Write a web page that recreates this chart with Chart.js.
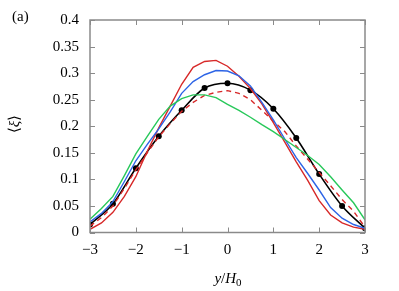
<!DOCTYPE html>
<html>
<head>
<meta charset="utf-8">
<script src="https://cdn.jsdelivr.net/npm/chart.js@4.4.1/dist/chart.umd.min.js"></script>
<style>
  html, body { margin: 0; padding: 0; background: #fff; }
  #wrap { width: 399px; height: 291px; }
</style>
</head>
<body>
<div id="wrap"><canvas id="plot" width="399" height="291"></canvas></div>
<script>
/* profile data */
var xFine = [-3, -2.75, -2.5, -2.25, -2, -1.75, -1.5, -1.25, -1, -0.75, -0.5, -0.25, 0,
             0.25, 0.5, 0.75, 1, 1.25, 1.5, 1.75, 2, 2.25, 2.5, 2.75, 3];
var redSolid = [0.006, 0.018, 0.038, 0.068, 0.105, 0.153, 0.197, 0.238, 0.279, 0.311, 0.322, 0.324, 0.313,
                0.294, 0.271, 0.242, 0.207, 0.170, 0.133, 0.098, 0.060, 0.033, 0.018, 0.010, 0.006];
var blueSolid = [0.020, 0.036, 0.058, 0.096, 0.135, 0.166, 0.195, 0.227, 0.262, 0.284, 0.297, 0.305, 0.304,
                 0.295, 0.276, 0.245, 0.212, 0.176, 0.141, 0.111, 0.080, 0.047, 0.027, 0.015, 0.008];
var greenSolid = [0.025, 0.045, 0.068, 0.107, 0.148, 0.181, 0.213, 0.238, 0.252, 0.259, 0.259, 0.254, 0.241,
                  0.230, 0.217, 0.203, 0.190, 0.175, 0.160, 0.145, 0.128, 0.105, 0.080, 0.056, 0.024];
var redDashed = [0.012, 0.028, 0.050, 0.083, 0.118, 0.150, 0.180, 0.205, 0.228, 0.245, 0.258, 0.264, 0.267,
                 0.262, 0.250, 0.230, 0.210, 0.190, 0.163, 0.138, 0.113, 0.088, 0.062, 0.040, 0.010];
var xMarks = [-3, -2.5, -2, -1.5, -1, -0.5, 0, 0.5, 1, 1.5, 2, 2.5, 3];
var blackMarks = [0.015, 0.054, 0.121, 0.181, 0.230, 0.272, 0.281, 0.268, 0.233, 0.178, 0.110, 0.050, 0.008];

var xTicks = [-3, -2, -1, 0, 1, 2, 3];
var yTicks = [0, 0.05, 0.1, 0.15, 0.2, 0.25, 0.3, 0.35, 0.4];

var serif = '"Liberation Serif", "Times New Roman", serif';

function pts(xs, ys) {
    return xs.map(function (x, i) { return { x: x, y: ys[i] }; });
}

function lineSet(data, color, extra) {
    var ds = {
        data: data,
        borderColor: color,
        borderWidth: 1.4,
        pointRadius: 0,
        tension: 0,
        fill: false
    };
    for (var k in extra) ds[k] = extra[k];
    return ds;
}

/* box frame with inward ticks plus the hand-set titles */
var framePlugin = {
    id: 'frame',
    afterDatasetsDraw: function (chart) {
        var ctx = chart.ctx, a = chart.chartArea;
        var xs = chart.scales.x, ys = chart.scales.y;
        ctx.save();
        ctx.strokeStyle = '#8a8a8a';
        ctx.lineWidth = 1.5;
        ctx.strokeRect(a.left, a.top, a.right - a.left, a.bottom - a.top);
        ctx.lineWidth = 1;
        ctx.beginPath();
        xTicks.forEach(function (t) {
            var px = Math.round(xs.getPixelForValue(t)) + 0.5;
            ctx.moveTo(px, a.bottom); ctx.lineTo(px, a.bottom - 5);
            ctx.moveTo(px, a.top); ctx.lineTo(px, a.top + 5);
        });
        yTicks.forEach(function (t) {
            var py = Math.round(ys.getPixelForValue(t)) + 0.5;
            ctx.moveTo(a.left, py); ctx.lineTo(a.left + 5, py);
            ctx.moveTo(a.right, py); ctx.lineTo(a.right - 5, py);
        });
        ctx.stroke();

        ctx.fillStyle = '#000';
        ctx.textBaseline = 'middle';
        ctx.font = '15px ' + serif;
        ctx.textAlign = 'left';
        ctx.fillText('(a)', 12, 17);

        // x title: y/H0
        var cx = 228, cy = 279;
        var parts = [
            { t: 'y', f: 'italic 15px ' + serif, dy: 0 },
            { t: '/', f: '15px ' + serif, dy: 0 },
            { t: 'H', f: 'italic 15px ' + serif, dy: 0 },
            { t: '0', f: '11px ' + serif, dy: 4 }
        ];
        var w = 0;
        parts.forEach(function (p) { ctx.font = p.f; p.w = ctx.measureText(p.t).width; w += p.w; });
        var x = cx - w / 2;
        parts.forEach(function (p) { ctx.font = p.f; ctx.fillText(p.t, x, cy + p.dy); x += p.w; });

        // y title: <xi>, rotated
        ctx.translate(15, 124);
        ctx.rotate(-Math.PI / 2);
        var yp = [
            { t: '\u27E8', f: '15px ' + serif },
            { t: '\u03BE', f: 'italic 15px ' + serif },
            { t: '\u27E9', f: '15px ' + serif }
        ];
        w = 0;
        yp.forEach(function (p) { ctx.font = p.f; p.w = ctx.measureText(p.t).width; w += p.w; });
        x = -w / 2;
        yp.forEach(function (p) { ctx.font = p.f; ctx.fillText(p.t, x, 0); x += p.w; });
        ctx.restore();
    }
};

var chart = new Chart(document.getElementById('plot').getContext('2d'), {
    type: 'line',
    data: {
        datasets: [
            lineSet(pts(xFine, greenSolid), 'rgb(40,200,90)'),
            lineSet(pts(xFine, blueSolid), 'rgb(45,100,230)'),
            lineSet(pts(xFine, redSolid), 'rgb(215,40,40)'),
            lineSet(pts(xFine, redDashed), 'rgb(215,40,40)', { borderDash: [5, 4] }),
            lineSet(pts(xMarks, blackMarks), '#000', {
                borderWidth: 1.6,
                cubicInterpolationMode: 'monotone',
                pointRadius: 3,
                pointBackgroundColor: '#000',
                pointBorderWidth: 0
            })
        ]
    },
    options: {
        responsive: false,
        animation: false,
        events: [],
        layout: { padding: { left: 0, right: 34, top: 19, bottom: 0 } },
        plugins: { legend: { display: false }, tooltip: { enabled: false } },
        scales: {
            x: {
                type: 'linear',
                min: -3, max: 3,
                afterFit: function (s) { s.height = 58.5; },
                afterBuildTicks: function (s) { s.ticks = xTicks.map(function (v) { return { value: v }; }); },
                grid: { display: false, drawTicks: false },
                border: { display: false },
                ticks: {
                    padding: 9,
                    color: '#000',
                    font: { family: serif, size: 15 },
                    maxRotation: 0,
                    callback: function (v) { return String(v).replace('-', '\u2212'); }
                }
            },
            y: {
                min: 0, max: 0.4,
                afterFit: function (s) { s.width = 90; },
                afterBuildTicks: function (s) { s.ticks = yTicks.map(function (v) { return { value: v }; }); },
                grid: { display: false, drawTicks: false },
                border: { display: false },
                ticks: {
                    padding: 11,
                    color: '#000',
                    font: { family: serif, size: 15 },
                    callback: function (v) { return String(+v.toFixed(2)); }
                }
            }
        }
    },
    plugins: [framePlugin]
});
</script>
</body>
</html>
